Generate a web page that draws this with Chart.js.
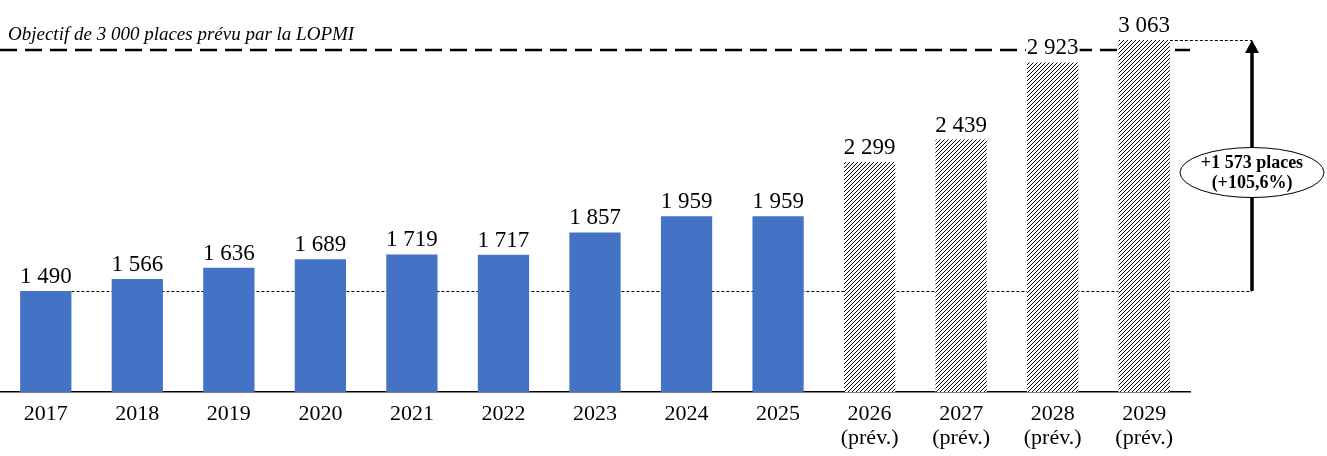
<!DOCTYPE html>
<html>
<head>
<meta charset="utf-8">
<script src="https://cdn.jsdelivr.net/npm/chart.js@4.4.1/dist/chart.umd.min.js"></script>
<style>
  html, body { margin: 0; padding: 0; background: #fff; }
  canvas { display: block; }
</style>
</head>
<body>
<canvas id="places-chart" width="1327" height="456"></canvas>
<script>
const years = ["2017", "2018", "2019", "2020", "2021", "2022", "2023", "2024", "2025", "2026", "2027", "2028", "2029"];
const places = [1490, 1566, 1636, 1689, 1719, 1717, 1857, 1959, 1959, 2299, 2439, 2923, 3063];
const forecast = [false, false, false, false, false, false, false, false, false, true, true, true, true];
const objectif = 3000;
const objectifLabel = "Objectif de 3 000 places prévu par la LOPMI";

const serif = "'Liberation Serif', 'DejaVu Serif', serif";

function fmt(v) {
  return String(v).replace(/\B(?=(\d{3})+(?!\d))/g, " ");
}

// motif hachuré pour les prévisions (pixels nets)
function hatch() {
  const c = document.createElement("canvas");
  c.width = 4;
  c.height = 4;
  const g = c.getContext("2d");
  g.fillStyle = "#fff";
  g.fillRect(0, 0, 4, 4);
  g.fillStyle = "#000";
  for (let i = 0; i < 4; i++) g.fillRect(i, 3 - i, 1, 1);
  return g.createPattern(c, "repeat");
}

const canvas = document.getElementById("places-chart");
const pattern = hatch();

const labels = years.map((y, i) => (forecast[i] ? [y, "(prév.)"] : y));
const colors = forecast.map((f) => (f ? pattern : "#4472C4"));

const annotations = {
  id: "annotations",
  beforeDatasetsDraw(chart) {
    const { ctx, chartArea } = chart;
    const y = chart.scales.y;
    const meta = chart.getDatasetMeta(0);
    const arrowX = chartArea.right + 62;
    const first = meta.data[0].getProps(["x", "width"], true);
    const last = meta.data[meta.data.length - 1].getProps(["x", "width"], true);
    const yFirst = y.getPixelForValue(places[0]);
    const yLast = y.getPixelForValue(places[places.length - 1]);

    ctx.save();
    // ligne objectif
    ctx.strokeStyle = "#000";
    ctx.lineWidth = 2.5;
    ctx.setLineDash([17, 8]);
    const yObj = y.getPixelForValue(objectif);
    ctx.beginPath();
    ctx.moveTo(chartArea.left, yObj);
    ctx.lineTo(chartArea.right, yObj);
    ctx.stroke();

    // pointillés
    ctx.lineWidth = 1;
    ctx.setLineDash([3, 2]);
    ctx.beginPath();
    ctx.moveTo(first.x + first.width / 2, Math.round(yFirst) + 0.5);
    ctx.lineTo(arrowX, Math.round(yFirst) + 0.5);
    ctx.moveTo(last.x + last.width / 2, Math.round(yLast) + 0.5);
    ctx.lineTo(arrowX, Math.round(yLast) + 0.5);
    ctx.stroke();

    ctx.setLineDash([]);
    ctx.fillStyle = "#000";
    ctx.font = "italic 19px " + serif;
    ctx.textAlign = "left";
    ctx.textBaseline = "alphabetic";
    ctx.fillText(objectifLabel, chartArea.left + 8, yObj - 10);
    ctx.restore();
  },
  afterDatasetsDraw(chart) {
    const { ctx, chartArea } = chart;
    const y = chart.scales.y;
    const meta = chart.getDatasetMeta(0);

    ctx.save();
    ctx.font = "23px " + serif;
    ctx.textAlign = "center";
    ctx.textBaseline = "alphabetic";
    meta.data.forEach((bar, i) => {
      const txt = fmt(places[i]);
      const w = ctx.measureText(txt).width;
      const ty = bar.y - 8;
      ctx.fillStyle = "#fff";
      ctx.fillRect(bar.x - w / 2 - 1, ty - 17, w + 2, 20);
      ctx.fillStyle = "#000";
      ctx.fillText(txt, bar.x, ty);
    });

    // flèche
    const arrowX = chartArea.right + 62;
    const yFirst = y.getPixelForValue(places[0]);
    const yLast = y.getPixelForValue(places[places.length - 1]);
    ctx.strokeStyle = "#000";
    ctx.lineWidth = 3.5;
    ctx.beginPath();
    ctx.moveTo(arrowX, yFirst);
    ctx.lineTo(arrowX, yLast + 10);
    ctx.stroke();
    ctx.beginPath();
    ctx.moveTo(arrowX, yLast);
    ctx.lineTo(arrowX - 7, yLast + 13);
    ctx.lineTo(arrowX + 7, yLast + 13);
    ctx.closePath();
    ctx.fill();

    // ellipse
    const diff = places[places.length - 1] - places[0];
    const pct = ((diff / places[0]) * 100).toFixed(1).replace(".", ",");
    const cy = (yFirst + yLast) / 2 + 7;
    ctx.beginPath();
    ctx.ellipse(arrowX, cy, 72, 25, 0, 0, Math.PI * 2);
    ctx.fillStyle = "#fff";
    ctx.fill();
    ctx.lineWidth = 1;
    ctx.stroke();
    ctx.fillStyle = "#000";
    ctx.font = "bold 18px " + serif;
    ctx.textBaseline = "middle";
    ctx.fillText("+" + fmt(diff) + " places", arrowX, cy - 9);
    ctx.fillText("(+" + pct + "%)", arrowX, cy + 11);
    ctx.restore();
  },
};

new Chart(canvas, {
  type: "bar",
  data: {
    labels: labels,
    datasets: [
      {
        data: places,
        backgroundColor: colors,
        borderWidth: 0,
        barPercentage: 0.56,
        categoryPercentage: 1,
      },
    ],
  },
  options: {
    responsive: false,
    animation: false,
    events: [],
    layout: {
      padding: { left: 0, right: 137, top: 0, bottom: 0 },
    },
    plugins: {
      legend: { display: false },
      tooltip: { enabled: false },
    },
    scales: {
      x: {
        grid: { display: false },
        border: { display: true, color: "#000", width: 1.5 },
        ticks: {
          color: "#000",
          padding: 2,
          maxRotation: 0,
          autoSkip: false,
          font: { family: serif, size: 22, lineHeight: 1.1 },
        },
        afterFit: (scale) => {
          scale.height = 64;
        },
      },
      y: {
        display: false,
        min: 857,
        max: 3314,
      },
    },
  },
  plugins: [annotations],
});
</script>
</body>
</html>
